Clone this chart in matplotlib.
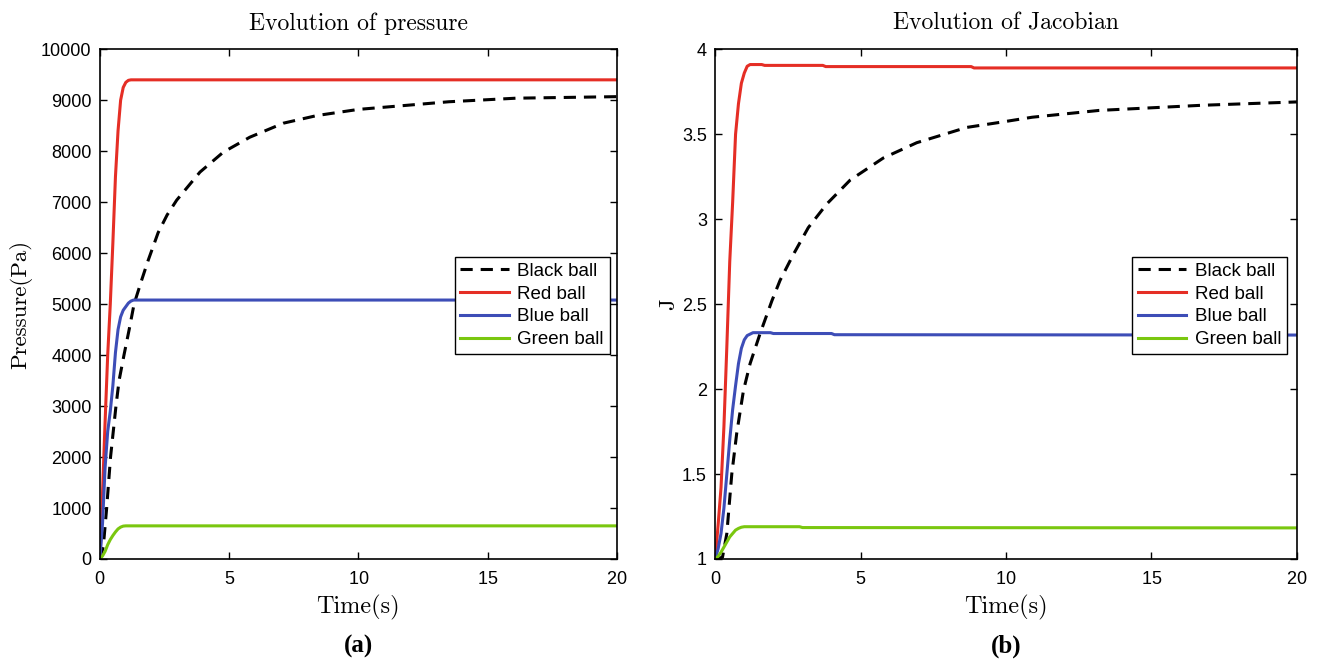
import matplotlib
matplotlib.use("Agg")
import matplotlib.pyplot as plt
from matplotlib.ticker import FuncFormatter

# ---- data ----
# (a) pressure (Pa) vs time (s)
t_black_p = [0, 0.13, 0.26, 0.41, 0.62, 0.74, 0.93, 1.13, 1.32, 1.6, 1.86, 2.25, 2.6, 2.97, 3.87,
             4.77, 5.8, 7.1, 8.4, 10, 13.5, 16.1, 20]
p_black = [0, 240, 1000, 2000, 3000, 3500, 4000, 4500, 5000, 5450, 5850, 6400, 6750, 7040, 7590,
           7980, 8275, 8550, 8700, 8820, 8970, 9040, 9070]
t_red_p = [0, 0.1, 0.2, 0.3, 0.4, 0.5, 0.6, 0.7, 0.8, 0.9, 1.0, 1.1, 1.2, 20]
p_red = [0, 1300, 2700, 4000, 5000, 6200, 7500, 8400, 9000, 9250, 9350, 9390, 9400, 9400]
t_blue_p = [0, 0.1, 0.2, 0.3, 0.4, 0.5, 0.6, 0.7, 0.8, 0.9, 1.0, 1.1, 1.2, 1.3, 20]
p_blue = [0, 700, 1800, 2500, 2900, 3400, 4050, 4500, 4750, 4880, 4950, 5020, 5060, 5080, 5080]
t_green_p = [0, 0.1, 0.2, 0.3, 0.4, 0.5, 0.6, 0.7, 0.8, 0.9, 1.0, 20]
p_green = [0, 60, 150, 280, 380, 460, 530, 590, 625, 645, 650, 650]

# (b) Jacobian vs time (s)
t_black_j = [0, 0.25, 0.4, 0.57, 0.74, 0.97, 1.2, 1.55, 1.95, 2.23, 2.68, 3.2, 3.84, 4.64,
             5.78, 6.93, 8.65, 9.8, 10.9, 13.2, 16.7, 20]
j_black = [1, 1.01, 1.15, 1.5, 1.74, 1.99, 2.15, 2.33, 2.52, 2.64, 2.79, 2.95, 3.09, 3.23,
           3.36, 3.45, 3.54, 3.57, 3.6, 3.64, 3.67, 3.69]
t_red_j = [0, 0.1, 0.2, 0.3, 0.4, 0.5, 0.6, 0.7, 0.8, 0.9, 1.0, 1.1, 1.2, 1.6, 1.7, 3.7, 3.8, 8.8, 8.9, 20]
j_red = [1, 1.2, 1.42, 1.78, 2.25, 2.75, 3.1, 3.5, 3.68, 3.8, 3.86, 3.9, 3.91, 3.91, 3.905, 3.905,
         3.898, 3.898, 3.89, 3.89]
t_blue_j = [0, 0.1, 0.2, 0.3, 0.4, 0.5, 0.6, 0.7, 0.8, 0.9, 1.0, 1.1, 1.3, 1.9, 2.0, 4.0, 4.1, 20]
j_blue = [1, 1.06, 1.15, 1.3, 1.5, 1.7, 1.88, 2.02, 2.15, 2.24, 2.29, 2.315, 2.332, 2.332, 2.327,
          2.327, 2.32, 2.318]
t_green_j = [0, 0.1, 0.2, 0.3, 0.4, 0.5, 0.6, 0.7, 0.8, 0.9, 1.0, 2.9, 3.0, 20]
j_green = [1, 1.015, 1.04, 1.07, 1.1, 1.13, 1.15, 1.17, 1.18, 1.187, 1.19, 1.19, 1.185, 1.183]

labels = ["Black ball", "Red ball", "Blue ball", "Green ball"]
x_ticks = [0, 5, 10, 15, 20]
p_ticks = list(range(0, 10001, 1000))
j_ticks = [1, 1.5, 2, 2.5, 3, 3.5, 4]

RED = "#e52e25"
BLUE = "#3d4db7"
GREEN = "#7ac70f"

plt.rcParams["font.family"] = ["Liberation Sans", "DejaVu Sans"]
plt.rcParams["axes.formatter.use_mathtext"] = True

fig = plt.figure(figsize=(13.22, 6.62), dpi=100)
ax1 = fig.add_axes([0.0756, 0.1556, 0.391, 0.770])
ax2 = fig.add_axes([0.541, 0.1556, 0.440, 0.770])

serif = "cmr10"


def draw(ax, series, ylim, yticks, title, ylabel, ylab_x, tag, leg_anchor):
    for (t, v, c, ls) in series:
        if ls == "--":
            ax.plot(t, v, color=c, lw=2.2, dashes=(4, 2.6))
        else:
            ax.plot(t, v, color=c, lw=2.2)
    ax.set_xlim(0, 20)
    ax.set_ylim(*ylim)
    ax.set_xticks(x_ticks)
    ax.set_yticks(yticks)
    ax.yaxis.set_major_formatter(FuncFormatter(lambda v, p: "%g" % v))
    ax.tick_params(direction="in", top=True, right=True, labelsize=13, length=5, width=1)
    ax.tick_params(axis="x", pad=9)
    ax.tick_params(axis="y", pad=6)
    for s in ax.spines.values():
        s.set_linewidth(1.2)
    ax.set_title(title, fontfamily=serif, fontsize=17, pad=14)
    ax.set_ylabel(ylabel, fontfamily=serif, fontsize=16.5)
    ax.yaxis.set_label_coords(ylab_x, 0.5)
    ax.set_xlabel("Time(s)", fontfamily=serif, fontsize=17.5)
    ax.xaxis.set_label_coords(0.5, -0.07)
    ax.text(0.5, -0.172, tag, transform=ax.transAxes, ha="center", va="center",
            fontfamily="Liberation Serif", fontweight="bold", fontsize=18)
    leg = ax.legend(labels, loc="upper right", bbox_to_anchor=leg_anchor, fontsize=13.5,
                    fancybox=False, edgecolor="black", framealpha=1, handlelength=2.6,
                    borderpad=0.3, labelspacing=0.3, handletextpad=0.45, borderaxespad=0)
    leg.get_frame().set_linewidth(1.0)


draw(ax1,
     [(t_black_p, p_black, "black", "--"), (t_red_p, p_red, RED, "-"),
      (t_blue_p, p_blue, BLUE, "-"), (t_green_p, p_green, GREEN, "-")],
     (0, 10000), p_ticks, "Evolution of pressure", "Pressure(Pa)", -0.131, "(a)", (0.986, 0.592))

draw(ax2,
     [(t_black_j, j_black, "black", "--"), (t_red_j, j_red, RED, "-"),
      (t_blue_j, j_blue, BLUE, "-"), (t_green_j, j_green, GREEN, "-")],
     (1, 4), j_ticks, "Evolution of Jacobian", "J", -0.064, "(b)", (0.983, 0.592))

fig.savefig("out.png", dpi=100)
